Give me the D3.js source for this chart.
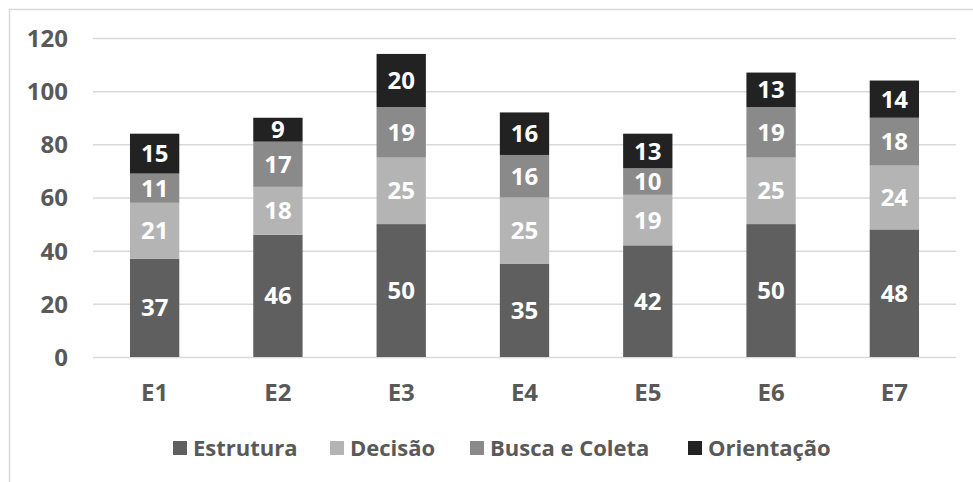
<!DOCTYPE html>
<html>
<head>
<meta charset="utf-8">
<script src="https://cdn.jsdelivr.net/npm/d3@7"></script>
<style>
  body { margin: 0; background: #fff; }
  svg text { font-family: "Open Sans", "Noto Sans", sans-serif; font-weight: 700; }
</style>
</head>
<body>
<svg id="chart" width="973" height="482"></svg>
<script>
// categories and series values
const categories = ["E1", "E2", "E3", "E4", "E5", "E6", "E7"];
const seriesNames = ["Estrutura", "Decisão", "Busca e Coleta", "Orientação"];
const estrutura = [37, 46, 50, 35, 42, 50, 48];
const decisao = [21, 18, 25, 25, 19, 25, 24];
const buscaColeta = [11, 17, 19, 16, 10, 19, 18];
const orientacao = [15, 9, 20, 16, 13, 13, 14];
const yTicks = [0, 20, 40, 60, 80, 100, 120];

const colors = ["#5f5f5f", "#b4b4b4", "#8a8a8a", "#222222"];

// build rows for d3.stack
const table = categories.map((c, i) => ({
  cat: c,
  "Estrutura": estrutura[i],
  "Decisão": decisao[i],
  "Busca e Coleta": buscaColeta[i],
  "Orientação": orientacao[i]
}));

const svg = d3.select("#chart");
const margin = { top: 38, right: 17, bottom: 125, left: 93 };
const width = 973, height = 482;
const innerWidth = width - margin.left - margin.right;
const innerHeight = height - margin.top - margin.bottom;

// chart frame: only the left and top edge are visible in the original
svg.append("path")
  .attr("d", `M9.5,${height}V9.5H${width}`)
  .attr("fill", "none")
  .attr("stroke", "#d9d9d9")
  .attr("stroke-width", 1.5);

const x = d3.scaleBand()
  .domain(categories)
  .range([0, innerWidth])
  .paddingInner(0.6)
  .paddingOuter(0.3);

const y = d3.scaleLinear()
  .domain([0, 120])
  .range([innerHeight, 0]);

const g = svg.append("g")
  .attr("transform", `translate(${margin.left},${margin.top})`);

// gridlines + y labels
const yAxis = g.append("g")
  .call(d3.axisLeft(y).tickValues(yTicks).tickSize(-innerWidth).tickPadding(25));
yAxis.select(".domain").remove();
yAxis.selectAll("line").attr("stroke", "#d9d9d9").attr("stroke-width", 1.5);
yAxis.selectAll("text")
  .attr("fill", "#595959")
  .style("font-size", "24px")
  .attr("dy", "0.35em");

// x labels
const xAxis = g.append("g")
  .attr("transform", `translate(0,${innerHeight})`)
  .call(d3.axisBottom(x).tickSize(0).tickPadding(27));
xAxis.select(".domain").remove();
xAxis.selectAll("text")
  .attr("fill", "#595959")
  .style("font-size", "24px");

// stacked bars
const stack = d3.stack().keys(seriesNames);
const layers = stack(table);

const layer = g.selectAll(".layer")
  .data(layers)
  .enter()
  .append("g")
  .attr("class", "layer")
  .attr("fill", (d, i) => colors[i]);

layer.selectAll("rect")
  .data(d => d)
  .enter()
  .append("rect")
  .attr("x", d => x(d.data.cat))
  .attr("y", d => y(d[1]))
  .attr("width", x.bandwidth())
  .attr("height", d => y(d[0]) - y(d[1]));

// value labels
layer.selectAll("text")
  .data(d => d)
  .enter()
  .append("text")
  .attr("x", d => x(d.data.cat) + x.bandwidth() / 2)
  .attr("y", d => y((d[0] + d[1]) / 2))
  .attr("dy", "0.36em")
  .attr("text-anchor", "middle")
  .attr("fill", "#ffffff")
  .style("font-size", "24px")
  .text(d => d[1] - d[0]);

// legend
const legendX = [173, 330, 470, 688];
const legend = svg.append("g")
  .attr("transform", "translate(0,448)");
seriesNames.forEach((name, i) => {
  const item = legend.append("g").attr("transform", `translate(${legendX[i]},0)`);
  item.append("rect")
    .attr("x", 0).attr("y", -7)
    .attr("width", 14).attr("height", 14)
    .attr("fill", colors[i]);
  item.append("text")
    .attr("x", 20)
    .attr("dy", "0.35em")
    .attr("fill", "#595959")
    .style("font-size", "22px")
    .text(name);
});
</script>
</body>
</html>
